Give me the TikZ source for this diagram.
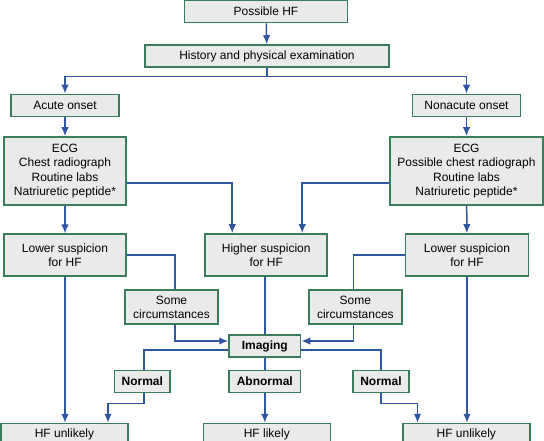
\documentclass[tikz,border=0pt]{standalone}
\usepackage{fontspec}
\setmainfont{Liberation Sans}
\usetikzlibrary{arrows.meta}
\definecolor{boxgreen}{RGB}{58,125,92}
\definecolor{boxfill}{RGB}{232,235,234}
\definecolor{flowblue}{RGB}{47,86,160}
\begin{document}
\begin{tikzpicture}[x=1pt, y=-1pt,
	box/.style={shape=rectangle, draw=boxgreen, fill=boxfill, line width=1.6pt, inner sep=0pt, align=center, font=\fontsize{12}{14.2}\selectfont},
	boldbox/.style={box, font=\fontsize{12}{14.2}\selectfont\bfseries},
	link/.style={draw=flowblue, line width=1.5pt},
	arrow/.style={link, -{Latex[length=9pt, width=7.5pt]}}]
	\useasboundingbox (0,0) rectangle (544,440);
	% top of the chart
	\node[box, minimum width=163pt, minimum height=22pt](Possible) at (266, 11.5){Possible HF};
	\node[box, minimum width=244pt, minimum height=22pt](History) at (267, 56){History and physical examination};
	\node[box, minimum width=108pt, minimum height=22pt](Acute) at (65, 105.4){Acute onset};
	\node[box, minimum width=108pt, minimum height=22pt](Nonacute) at (466.5, 105.4){Nonacute onset};
	\node[box, minimum width=122pt, minimum height=68pt](TestsL) at (65, 171){ECG\\Chest radiograph\\Routine labs\\Natriuretic peptide*};
	\node[box, minimum width=153pt, minimum height=68pt](TestsR) at (466.5, 171){ECG\\Possible chest radiograph\\Routine labs\\Natriuretic peptide*};
	% suspicion
	\node[box, minimum width=122pt, minimum height=42pt](LowerL) at (65, 255.2){Lower suspicion\\for HF};
	\node[box, minimum width=122pt, minimum height=42pt](Higher) at (266.2, 255){Higher suspicion\\for HF};
	\node[box, minimum width=123pt, minimum height=42pt](LowerR) at (467, 255){Lower suspicion\\for HF};
	\node[box, minimum width=93pt, minimum height=34pt](SomeL) at (171.5, 307){Some\\circumstances};
	\node[box, minimum width=93pt, minimum height=34pt](SomeR) at (355.4, 307){Some\\circumstances};
	% imaging and results
	\node[boldbox, minimum width=71.5pt, minimum height=21.5pt](Imaging) at (264.8, 346){Imaging};
	\node[boldbox, minimum width=55.5pt, minimum height=22pt](NormalL) at (142.3, 381.5){Normal};
	\node[boldbox, minimum width=71.5pt, minimum height=22pt](Abnormal) at (264.8, 381.5){Abnormal};
	\node[boldbox, minimum width=56pt, minimum height=22pt](NormalR) at (381, 381.5){Normal};
	\node[box, minimum width=127pt, minimum height=22pt](UnlikelyL) at (64.5, 434.6){HF unlikely};
	\node[box, minimum width=127pt, minimum height=22pt](Likely) at (266.8, 434.6){HF likely};
	\node[box, minimum width=127pt, minimum height=22pt](UnlikelyR) at (466.3, 434.6){HF unlikely};
	% connectors
	\draw[arrow] (Possible) -- (History);
	\draw[link] (History.south) -- ++(0,8.7) coordinate (Split);
	\draw[arrow] (Split) -| (Acute.north);
	\draw[arrow] (Split) -| (Nonacute.north);
	\draw[arrow] (Acute) -- (TestsL);
	\draw[arrow] (Nonacute) -- (TestsR);
	\draw[arrow] ([yshift=-12pt]TestsL.east) -| ([xshift=-34pt]Higher.north);
	\draw[arrow] ([yshift=-12pt]TestsR.west) -| ([xshift=36pt]Higher.north);
	\draw[arrow] (TestsL) -- (LowerL);
	\draw[arrow] (TestsR) -- (LowerR);
	\draw[link] (LowerL.east) -| ([xshift=3.5pt]SomeL.north);
	\draw[link] (LowerR.west) -| ([xshift=-2pt]SomeR.north);
	\draw[link] (Higher.south -| Imaging.north) -- (Imaging.north);
	\draw[arrow] ([xshift=3.5pt]SomeL.south) |- ([yshift=5pt]Imaging.west);
	\draw[arrow] ([xshift=-2pt]SomeR.south) |- ([yshift=5pt]Imaging.east);
	\draw[link] ([yshift=-4pt]Imaging.west) -| ([xshift=1.7pt]NormalL.north);
	\draw[link] ([yshift=-4pt]Imaging.east) -| (NormalR.north);
	\draw[link] (Imaging) -- (Abnormal);
	\draw[arrow] (Abnormal.south) -- (Abnormal.south |- Likely.north);
	\draw[arrow] ([xshift=1.7pt]NormalL.south) -- ++(0,10.3) -| ([xshift=43.5pt]UnlikelyL.north);
	\draw[arrow] (NormalR.south) -- ++(0,10.3) -| ([xshift=-48.8pt]UnlikelyR.north);
	\draw[arrow] (LowerL.south) -- (LowerL.south |- UnlikelyL.north);
	\draw[arrow] (LowerR.south) -- (LowerR.south |- UnlikelyR.north);
\end{tikzpicture}
\end{document}
